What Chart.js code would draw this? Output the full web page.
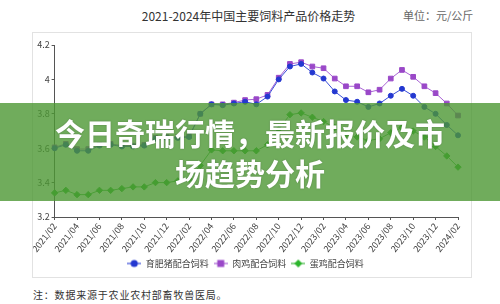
<!DOCTYPE html>
<html>
<head>
<meta charset="utf-8">
<script src="https://cdn.jsdelivr.net/npm/chart.js@4.4.0/dist/chart.umd.min.js"></script>
<style>
	html, body { margin: 0; padding: 0; background: #fff; }
	body { width: 500px; height: 304px; position: relative; overflow: hidden; font-family: "Noto Sans CJK SC", sans-serif; }
	#title { position: absolute; left: 0; top: 7px; width: 497px; text-align: center; font-size: 12px; line-height: 18px; color: #333; }
	#unit { position: absolute; left: 403px; top: 7px; font-size: 11px; line-height: 16px; color: #666; }
	#frame { position: absolute; left: 32px; top: 32px; width: 440px; height: 246px; border: 1px solid #e2e2e2; box-sizing: border-box; }
	#chart { position: absolute; left: 33px; top: 33px; }
	#note { position: absolute; left: 33px; top: 287px; font-size: 10px; line-height: 16px; letter-spacing: 0.8px; color: #333; }
	#banner { position: absolute; left: 0; top: 103px; width: 500px; height: 98px; background: rgba(76, 151, 51, 0.8); }
	#banner div { width: 400px; margin: 9px auto 0; text-align: center; color: #fff; font-weight: 700; font-size: 30px; line-height: 40px; text-shadow: 0 0 2px rgba(0, 0, 0, 0.25); }
</style>
</head>
<body>
<div id="title">2021-2024年中国主要饲料产品价格走势</div>
<div id="unit">单位：元/公斤</div>
<div id="frame"></div>
<canvas id="chart" width="438" height="245"></canvas>
<div id="note">注：数据来源于农业农村部畜牧兽医局。</div>
<div id="banner"><div>今日奇瑞行情，最新报价及市场趋势分析</div></div>

<script>
// ===========================================
// Data
// ===========================================

var months = [
	"2021/02", "2021/03", "2021/04", "2021/05", "2021/06", "2021/07", "2021/08", "2021/09", "2021/10", "2021/11", "2021/12",
	"2022/01", "2022/02", "2022/03", "2022/04", "2022/05", "2022/06", "2022/07", "2022/08", "2022/09", "2022/10", "2022/11", "2022/12",
	"2023/01", "2023/02", "2023/03", "2023/04", "2023/05", "2023/06", "2023/07", "2023/08", "2023/09", "2023/10", "2023/11", "2023/12",
	"2024/01", "2024/02"
];

var series_names = ["育肥猪配合饲料", "肉鸡配合饲料", "蛋鸡配合饲料"];

// 育肥猪配合饲料
var pig_feed = [
	3.60, 3.62, 3.585, 3.585, 3.615, 3.62, 3.61, 3.61, 3.615, 3.655, 3.66, 3.66, 3.665,
	3.80, 3.855, 3.85, 3.86, 3.87, 3.855, 3.90, 4.00, 4.075, 4.09, 4.04, 4.005,
	3.93, 3.88, 3.87, 3.84, 3.86, 3.905, 3.945, 3.905, 3.84, 3.80, 3.735, 3.675
];

// 肉鸡配合饲料
var broiler_feed = [
	3.605, 3.625, 3.595, 3.595, 3.62, 3.625, 3.615, 3.615, 3.62, 3.66, 3.665, 3.665, 3.67,
	3.80, 3.855, 3.855, 3.865, 3.88, 3.885, 3.91, 4.01, 4.09, 4.10, 4.075, 4.065,
	4.005, 3.96, 3.96, 3.925, 3.94, 4.005, 4.055, 4.015, 3.96, 3.92, 3.86, 3.79
];

// 蛋鸡配合饲料
var layer_feed = [
	3.34, 3.355, 3.33, 3.33, 3.355, 3.355, 3.365, 3.375, 3.375, 3.40, 3.40, 3.41, 3.42,
	3.50, 3.59, 3.585, 3.585, 3.585, 3.585, 3.62, 3.71, 3.795, 3.805, 3.78, 3.755,
	3.72, 3.68, 3.665, 3.645, 3.655, 3.69, 3.72, 3.70, 3.665, 3.61, 3.555, 3.49
];

var y_min = 3.2;
var y_max = 4.2;
var y_step = 0.2;

// ===========================================
// Styles
// ===========================================
var font_family = '"Noto Sans CJK SC", sans-serif';
var axis_color = "#555";
var text_color = "#444";

var line_colors = ["#3b4fd8", "#a862d4", "#46b846"];
var point_colors = ["#2438d0", "#9a48c8", "#2cb52c"];
var point_styles = ["circle", "rect", "rectRot"];
var point_radius = [2.5, 3.3, 3.2];

// ===========================================
// Functions
// ===========================================

// small line + marker icon for the legend
function makeLegendIcon(lineColor, pointColor, style) {
	var c = document.createElement("canvas");
	c.width = 14;
	c.height = 10;
	var g = c.getContext("2d");
	g.strokeStyle = lineColor;
	g.lineWidth = 1.2;
	g.beginPath();
	g.moveTo(0, 5);
	g.lineTo(14, 5);
	g.stroke();
	g.fillStyle = pointColor;
	g.beginPath();
	if (style === "circle") {
		g.arc(7, 5, 3.6, 0, Math.PI * 2);
	} else if (style === "rect") {
		g.rect(3.5, 1.5, 7, 7);
	} else {
		g.moveTo(7, 1);
		g.lineTo(11, 5);
		g.lineTo(7, 9);
		g.lineTo(3, 5);
		g.closePath();
	}
	g.fill();
	return c;
}

function makeDataset(i, data) {
	return {
		label: series_names[i],
		data: data,
		borderColor: line_colors[i],
		backgroundColor: point_colors[i],
		pointBackgroundColor: point_colors[i],
		pointBorderColor: point_colors[i],
		pointStyle: point_styles[i],
		pointRadius: point_radius[i],
		borderWidth: 1,
		tension: 0
	};
}

var legend_icons = [0, 1, 2].map(function (i) {
	return makeLegendIcon(line_colors[i], point_colors[i], point_styles[i]);
});

var ctx = document.getElementById("chart").getContext("2d");

new Chart(ctx, {
	type: "line",
	data: {
		labels: months,
		datasets: [
			makeDataset(0, pig_feed),
			makeDataset(1, broiler_feed),
			makeDataset(2, layer_feed)
		]
	},
	options: {
		responsive: false,
		animation: false,
		layout: {
			autoPadding: false,
			padding: { left: 0, right: 13, top: 12, bottom: 0 }
		},
		plugins: {
			tooltip: { enabled: false },
			legend: {
				position: "bottom",
				labels: {
					usePointStyle: true,
					pointStyleWidth: 14,
					padding: 5,
					color: text_color,
					font: { size: 9, family: font_family },
					generateLabels: function (chart) {
						var items = Chart.defaults.plugins.legend.labels.generateLabels(chart);
						items.forEach(function (item, i) {
							item.pointStyle = legend_icons[i];
						});
						return items;
					}
				}
			}
		},
		scales: {
			x: {
				border: { color: axis_color, width: 1 },
				grid: { drawOnChartArea: false, drawTicks: true, tickLength: 3, color: axis_color },
				ticks: {
					autoSkip: false,
					minRotation: 52,
					maxRotation: 52,
					padding: 1,
					color: text_color,
					font: { size: 9, family: font_family },
					callback: function (val, i) {
						return i % 2 === 0 ? this.getLabelForValue(val) : null;
					}
				},
				afterFit: function (scale) { scale.height = 37; }
			},
			y: {
				min: y_min,
				max: y_max,
				border: { color: axis_color, width: 1 },
				grid: { drawOnChartArea: false, drawTicks: true, tickLength: 3, color: axis_color },
				ticks: {
					stepSize: y_step,
					padding: 2,
					color: text_color,
					font: { size: 9, family: font_family },
					callback: function (v) { return String(Math.round(v * 10) / 10); }
				},
				afterFit: function (scale) { scale.width = 20; }
			}
		}
	}
});
</script>
</body>
</html>
